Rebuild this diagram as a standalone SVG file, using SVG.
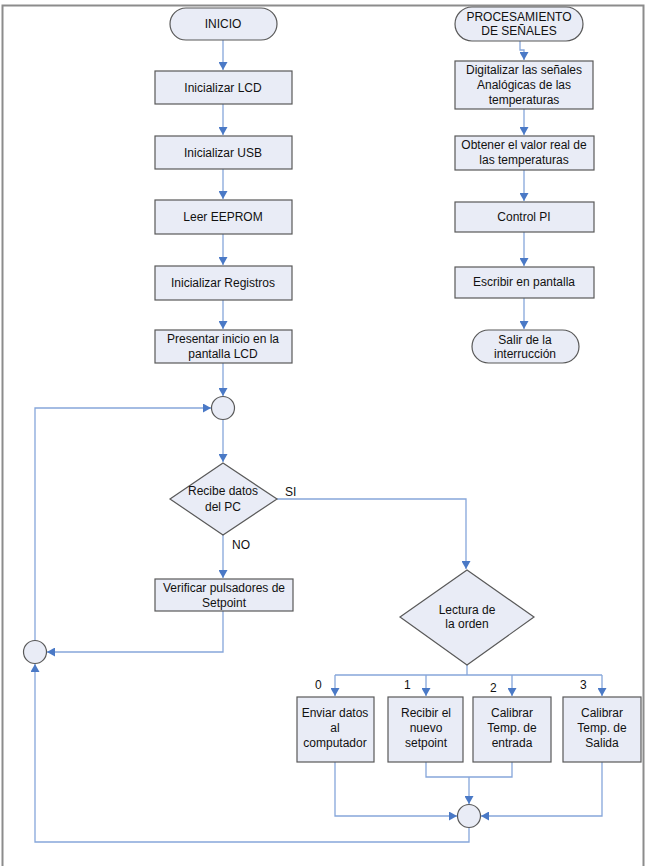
<svg xmlns="http://www.w3.org/2000/svg" width="646" height="866" viewBox="0 0 646 866">
<style>
.box{fill:#E9ECF6;stroke:#595959;stroke-width:1.2}
.t{font-family:"Liberation Sans",Arial,sans-serif;font-size:12px;fill:#111;text-anchor:middle}
.lbl{font-family:"Liberation Sans",Arial,sans-serif;font-size:12px;fill:#111}
.ln{fill:none;stroke:#86A6DA;stroke-width:1.3}
</style>
<defs>
<marker id="ah" markerWidth="9" markerHeight="9" refX="8" refY="4.5" orient="auto" markerUnits="userSpaceOnUse">
<path d="M0,0 L8,4.5 L0,9 Z" fill="#4A79C6"/>
</marker>
</defs>
<rect x="0" y="0" width="646" height="866" fill="#fff"/>
<path d="M2.5,866 V5.5 H643.5 V866" fill="none" stroke="#8C8C8C" stroke-width="2"/>

<g id="connectors">
<path class="ln" d="M223,40 V70" marker-end="url(#ah)"/>
<path class="ln" d="M223,104 V135" marker-end="url(#ah)"/>
<path class="ln" d="M223,169 V199" marker-end="url(#ah)"/>
<path class="ln" d="M223,234 V265" marker-end="url(#ah)"/>
<path class="ln" d="M223,300 V329" marker-end="url(#ah)"/>
<path class="ln" d="M223,363 V396" marker-end="url(#ah)"/>
<path class="ln" d="M223,420 V462" marker-end="url(#ah)"/>
<path class="ln" d="M223,535 V578" marker-end="url(#ah)"/>
<path class="ln" d="M223,611 V652 H47" marker-end="url(#ah)"/>
<path class="ln" d="M35,641 V408 H211" marker-end="url(#ah)"/>
<path class="ln" d="M277,499 H466 V569" marker-end="url(#ah)"/>
<path class="ln" d="M467,665 V675"/>
<path class="ln" d="M335,675 H602"/>
<path class="ln" d="M335,675 V696" marker-end="url(#ah)"/>
<path class="ln" d="M426,675 V696" marker-end="url(#ah)"/>
<path class="ln" d="M512,675 V696" marker-end="url(#ah)"/>
<path class="ln" d="M602,675 V696" marker-end="url(#ah)"/>
<path class="ln" d="M426,762 V777 H512 V762"/>
<path class="ln" d="M469,777 V804" marker-end="url(#ah)"/>
<path class="ln" d="M335,762 V816 H457" marker-end="url(#ah)"/>
<path class="ln" d="M602,762 V816 H481" marker-end="url(#ah)"/>
<path class="ln" d="M469,828 V842 H35 V664" marker-end="url(#ah)"/>
<path class="ln" d="M520,41 V50 H524 V60" marker-end="url(#ah)"/>
<path class="ln" d="M524,109 V135" marker-end="url(#ah)"/>
<path class="ln" d="M524,170 V201" marker-end="url(#ah)"/>
<path class="ln" d="M524,232 V266" marker-end="url(#ah)"/>
<path class="ln" d="M524,298 V329" marker-end="url(#ah)"/>
</g>

<g id="labels">
<text class="lbl" x="285" y="496">SI</text>
<text class="lbl" x="232" y="549">NO</text>
<text class="lbl" x="315" y="689">0</text>
<text class="lbl" x="404" y="689">1</text>
<text class="lbl" x="490" y="692">2</text>
<text class="lbl" x="580" y="689">3</text>
</g>

<g id="inicio"><rect class="box" x="170" y="8" width="107" height="32" rx="16"/><text class="t" x="223" y="28">INICIO</text></g>
<g id="lcd"><rect class="box" x="155" y="71" width="137" height="33"/><text class="t" x="223" y="92">Inicializar LCD</text></g>
<g id="usb"><rect class="box" x="155" y="136" width="137" height="33"/><text class="t" x="223" y="157">Inicializar USB</text></g>
<g id="eeprom"><rect class="box" x="155" y="200" width="137" height="34"/><text class="t" x="223" y="221">Leer EEPROM</text></g>
<g id="registros"><rect class="box" x="155" y="266" width="137" height="34"/><text class="t" x="223" y="287">Inicializar Registros</text></g>
<g id="presentar"><rect class="box" x="155" y="330" width="137" height="33"/><text class="t" x="223" y="343">Presentar inicio en la</text><text class="t" x="223" y="358">pantalla LCD</text></g>
<g id="c1"><circle class="box" cx="223" cy="408" r="11.5"/></g>
<g id="recibe"><path class="box" d="M223,463 L277,499 L223,535 L170,499 Z"/><text class="t" x="223" y="495">Recibe datos</text><text class="t" x="223" y="511">del PC</text></g>
<g id="verificar"><rect class="box" x="155" y="579" width="138" height="32"/><text class="t" x="224" y="592">Verificar pulsadores de</text><text class="t" x="224" y="607">Setpoint</text></g>
<g id="c2"><circle class="box" cx="35" cy="652" r="11.5"/></g>
<g id="lectura"><path class="box" d="M467,570 L534,617 L467,665 L400,617 Z"/><text class="t" x="467" y="614">Lectura de</text><text class="t" x="467" y="628">la orden</text></g>
<g id="enviar"><rect class="box" x="297" y="697" width="77" height="65"/><text class="t" x="335" y="717">Enviar datos</text><text class="t" x="335" y="732">al</text><text class="t" x="335" y="747">computador</text></g>
<g id="recibir"><rect class="box" x="388" y="697" width="75" height="65"/><text class="t" x="426" y="717">Recibir el</text><text class="t" x="426" y="732">nuevo</text><text class="t" x="426" y="747">setpoint</text></g>
<g id="cal_entrada"><rect class="box" x="473" y="697" width="78" height="65"/><text class="t" x="512" y="717">Calibrar</text><text class="t" x="512" y="732">Temp. de</text><text class="t" x="512" y="747">entrada</text></g>
<g id="cal_salida"><rect class="box" x="563" y="697" width="78" height="65"/><text class="t" x="602" y="717">Calibrar</text><text class="t" x="602" y="732">Temp. de</text><text class="t" x="602" y="747">Salida</text></g>
<g id="c3"><circle class="box" cx="469" cy="816" r="11.5"/></g>

<g id="procesamiento"><rect class="box" x="455" y="7" width="128" height="34" rx="17"/><text class="t" x="519" y="21">PROCESAMIENTO</text><text class="t" x="519" y="35">DE SEÑALES</text></g>
<g id="digitalizar"><rect class="box" x="455" y="61" width="138" height="48"/><text class="t" x="524" y="74">Digitalizar las señales</text><text class="t" x="524" y="89">Analógicas de las</text><text class="t" x="524" y="104">temperaturas</text></g>
<g id="obtener"><rect class="box" x="455" y="136" width="139" height="34"/><text class="t" x="524" y="149">Obtener el valor real de</text><text class="t" x="524" y="164">las temperaturas</text></g>
<g id="control"><rect class="box" x="455" y="202" width="139" height="30"/><text class="t" x="524" y="221">Control PI</text></g>
<g id="escribir"><rect class="box" x="455" y="267" width="139" height="31"/><text class="t" x="524" y="286">Escribir en pantalla</text></g>
<g id="salir"><rect class="box" x="472" y="330" width="107" height="33" rx="16.5"/><text class="t" x="525" y="344">Salir de la</text><text class="t" x="525" y="358">interrucción</text></g>
</svg>
